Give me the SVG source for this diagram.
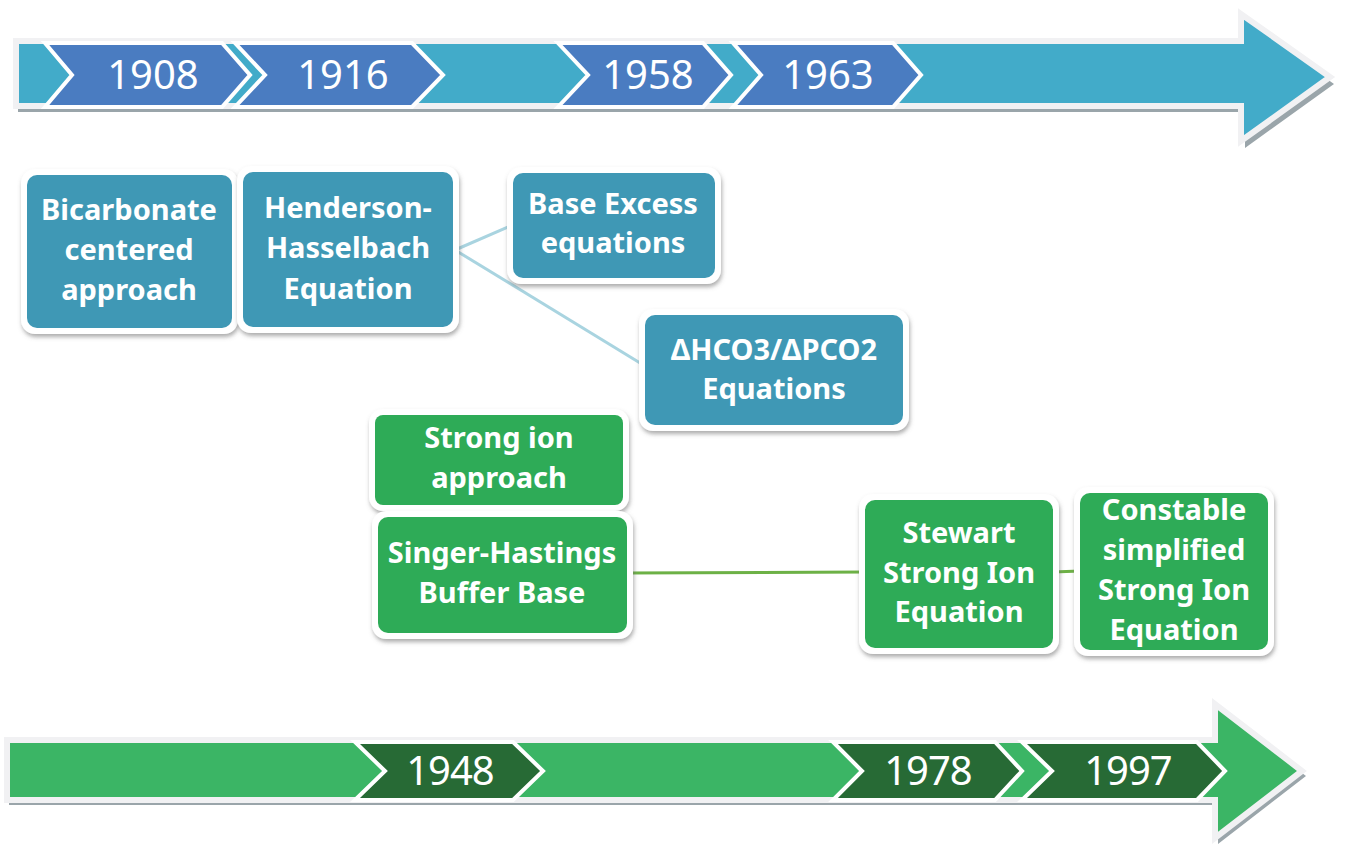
<svg xmlns="http://www.w3.org/2000/svg" width="1347" height="847" viewBox="0 0 1347 847">
<defs>
<filter id="sh" x="-10%" y="-10%" width="120%" height="130%">
<feDropShadow dx="1" dy="3" stdDeviation="2" flood-color="#6a6a6a" flood-opacity="0.55"/>
</filter>
<style>
.bg{fill:#ffffff}
.arrowShadow{fill:#9aa5aa}
.arrowTop{fill:#42abc9;stroke:#f1f1f3;stroke-width:6;stroke-linejoin:miter}
.arrowBot{fill:#3bb565;stroke:#f1f1f3;stroke-width:6;stroke-linejoin:miter}
.chevB{fill:#4a7cc1;stroke:#ffffff;stroke-width:4}
.chevG{fill:#276a35;stroke:#ffffff;stroke-width:4}
.year{font-family:"Noto Sans","Open Sans",sans-serif;font-size:40px;fill:#ffffff;text-anchor:middle}
.yearG{font-family:"Noto Sans","Open Sans",sans-serif;font-size:40px;fill:#ffffff;text-anchor:middle;letter-spacing:-1px}
.frame{fill:#ffffff;filter:url(#sh)}
.boxB{fill:#3f98b5}
.boxG{fill:#2eab57}
.lbl{font-family:"Noto Sans","Open Sans",sans-serif;font-weight:bold;font-size:29px;fill:#ffffff;text-anchor:middle}
.linkB{stroke:#a9d4e0;stroke-width:3;fill:none}
.linkG{stroke:#6db146;stroke-width:3;fill:none}
</style>
</defs>
<rect class="bg" x="0" y="0" width="1347" height="847"/>

<g id="timeline-top">
<polygon class="arrowShadow" points="18,46 1245,46 1245,20 1334,84 1245,148 1245,112 18,112"/>
<polygon class="arrowTop" points="16,41 1241,41 1241,14 1330,77 1241,141 1241,106 16,106"/>
<polygon class="chevB" points="45,43 222,43 250,75 222,107 45,107 72,75"/>
<text class="year" x="153" y="89">1908</text>
<polygon class="chevB" points="235,43 412,43 443,75 412,107 235,107 265,75"/>
<text class="year" x="343" y="89">1916</text>
<polygon class="chevB" points="733,43 893,43 921,75 893,107 733,107 761,75"/>
<text class="year" x="828" y="89">1963</text>
<polygon class="chevB" points="558,43 703,43 731,75 703,107 558,107 588,75"/>
<text class="year" x="648" y="89">1958</text>
</g>

<g id="timeline-bottom">
<polygon class="arrowShadow" points="9,745 1218,745 1218,709 1306,776 1218,844 1218,805 9,805"/>
<polygon class="arrowBot" points="7,740 1215,740 1215,704 1302,771 1215,838 1215,800 7,800"/>
<polygon class="chevG" points="355,742 513,742 543,771 513,800 355,800 385,771"/>
<text class="yearG" x="450" y="785">1948</text>
<polygon class="chevG" points="1022,742 1197,742 1225,771 1197,800 1022,800 1052,771"/>
<text class="yearG" x="1128" y="785">1997</text>
<polygon class="chevG" points="833,742 995,742 1022,771 995,800 833,800 862,771"/>
<text class="yearG" x="928" y="785">1978</text>
</g>

<g id="connectors">
<line class="linkB" x1="455" y1="250" x2="515" y2="224"/>
<line class="linkB" x1="455" y1="250" x2="645" y2="366"/>
<line class="linkG" x1="627" y1="573" x2="866" y2="572"/>
<line class="linkG" x1="1053" y1="572" x2="1080" y2="571"/>
</g>

<g id="node-bicarbonate">
<rect class="frame" x="21" y="169" width="217" height="165" rx="14"/>
<rect class="boxB" x="27" y="175" width="205" height="153" rx="10"/>
<text class="lbl"><tspan x="129" y="220">Bicarbonate</tspan><tspan x="129" y="260">centered</tspan><tspan x="129" y="300">approach</tspan></text>
</g>

<g id="node-henderson">
<rect class="frame" x="237" y="166" width="222" height="167" rx="14"/>
<rect class="boxB" x="243" y="172" width="210" height="155" rx="10"/>
<text class="lbl"><tspan x="348" y="218">Henderson-</tspan><tspan x="348" y="258">Hasselbach</tspan><tspan x="348" y="299">Equation</tspan></text>
</g>

<g id="node-base-excess">
<rect class="frame" x="507" y="167" width="214" height="117" rx="14"/>
<rect class="boxB" x="513" y="173" width="202" height="105" rx="10"/>
<text class="lbl"><tspan x="613" y="214">Base Excess</tspan><tspan x="613" y="253">equations</tspan></text>
</g>

<g id="node-dhco3">
<rect class="frame" x="639" y="309" width="270" height="122" rx="14"/>
<rect class="boxB" x="645" y="315" width="258" height="110" rx="10"/>
<text class="lbl"><tspan x="774" y="360">ΔHCO3/ΔPCO2</tspan><tspan x="774" y="399">Equations</tspan></text>
</g>

<g id="node-strong-ion">
<rect class="frame" x="369" y="409" width="260" height="102" rx="14"/>
<rect class="boxG" x="375" y="415" width="248" height="90" rx="8"/>
<text class="lbl"><tspan x="499" y="448">Strong ion</tspan><tspan x="499" y="488">approach</tspan></text>
</g>

<g id="node-singer">
<rect class="frame" x="372" y="511" width="261" height="128" rx="14"/>
<rect class="boxG" x="378" y="517" width="249" height="116" rx="10"/>
<text class="lbl"><tspan x="502" y="563">Singer-Hastings</tspan><tspan x="502" y="603">Buffer Base</tspan></text>
</g>

<g id="node-stewart">
<rect class="frame" x="859" y="494" width="200" height="160" rx="14"/>
<rect class="boxG" x="865" y="500" width="188" height="148" rx="10"/>
<text class="lbl"><tspan x="959" y="543">Stewart</tspan><tspan x="959" y="583">Strong Ion</tspan><tspan x="959" y="622">Equation</tspan></text>
</g>

<g id="node-constable">
<rect class="frame" x="1074" y="487" width="200" height="169" rx="14"/>
<rect class="boxG" x="1080" y="493" width="188" height="157" rx="10"/>
<text class="lbl"><tspan x="1174" y="520">Constable</tspan><tspan x="1174" y="560">simplified</tspan><tspan x="1174" y="600">Strong Ion</tspan><tspan x="1174" y="640">Equation</tspan></text>
</g>
</svg>
